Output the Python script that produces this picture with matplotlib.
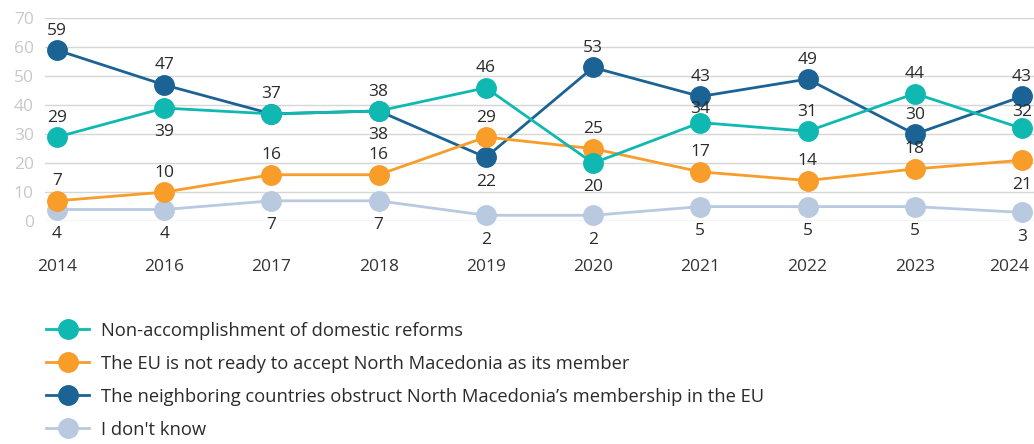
import matplotlib
matplotlib.use("Agg")
import matplotlib.pyplot as plt
from matplotlib.transforms import ScaledTranslation

years = ["2014", "2016", "2017", "2018", "2019", "2020", "2021", "2022", "2023", "2024"]

domestic = [29, 39, 37, 38, 46, 20, 34, 31, 44, 32]
eu_not_ready = [7, 10, 16, 16, 29, 25, 17, 14, 18, 21]
neighbors = [59, 47, 37, 38, 22, 53, 43, 49, 30, 43]
dont_know = [4, 4, 7, 7, 2, 2, 5, 5, 5, 3]

# label placement per point: a = above, b = below, "" = no label
domestic_pos = ["a", "b", "a", "a", "a", "b", "a", "a", "a", "a"]
eu_pos = ["a", "a", "a", "a", "a", "a", "a", "a", "a", "b"]
neighbors_pos = ["a", "a", "", "b", "b", "a", "a", "a", "a", "a"]
dont_know_pos = ["b"] * 10

# crowded spots get their label pulled closer to the marker (offset in points)
tight = {("domestic", 6): 9.5, ("domestic", 9): 11.5}

series = [
    ("domestic", "Non-accomplishment of domestic reforms", domestic, domestic_pos, "#0fb9b1"),
    ("eu", "The EU is not ready to accept North Macedonia as its member", eu_not_ready, eu_pos, "#f89c2a"),
    ("neighbors", "The neighboring countries obstruct North Macedonia\u2019s membership in the EU", neighbors, neighbors_pos, "#1b6394"),
    ("dk", "I don't know", dont_know, dont_know_pos, "#b8c9e0"),
]

plt.rcParams["font.family"] = ["Open Sans", "DejaVu Sans"]

fig = plt.figure(figsize=(10.34, 4.44), dpi=100)
ax = fig.add_axes([0.0435, 0.502, 0.9565, 0.457])

x = list(range(len(years)))
handles = []
for key, name, vals, pos, color in series[::-1]:
    (h,) = ax.plot(x, vals, color=color, lw=2, marker="o", markersize=14,
                   clip_on=False, zorder=3, label=name)
    handles.append(h)
    for xi, v, p in zip(x, vals, pos):
        if not p:
            continue
        dy = tight.get((key, xi), 14) if p == "a" else -17.5
        ax.annotate(str(v), (xi, v), xytext=(0, dy), textcoords="offset points",
                    ha="center", va="center", fontsize=12.5, color="#2b2b2b", zorder=5)

ax.set_xlim(-0.112, 9.112)
ax.set_ylim(0, 70)
ax.set_yticks(range(0, 71, 10))
ax.set_xticks(x)
ax.set_xticklabels(years)
ax.grid(axis="y", color="#d6d6d6", lw=1)
ax.set_axisbelow(True)
for s in ax.spines.values():
    s.set_visible(False)
ax.tick_params(axis="both", length=0)
ax.tick_params(axis="x", pad=27, labelsize=12.5, labelcolor="#333333")
ax.tick_params(axis="y", pad=8, labelsize=12.5, labelcolor="#c8c8c8")

# keep the last year label inside the canvas
last = ax.get_xticklabels()[-1]
last.set_transform(last.get_transform() + ScaledTranslation(-9 / 72, 0, fig.dpi_scale_trans))

fig.legend(handles[::-1], [s[1] for s in series], loc="upper left",
           bbox_to_anchor=(0.0377, 0.292), frameon=False, fontsize=13.2,
           handlelength=2.35, handletextpad=0.65, labelspacing=0.82,
           borderaxespad=0, labelcolor="#2b2b2b")

fig.savefig("out.png", dpi=100)
